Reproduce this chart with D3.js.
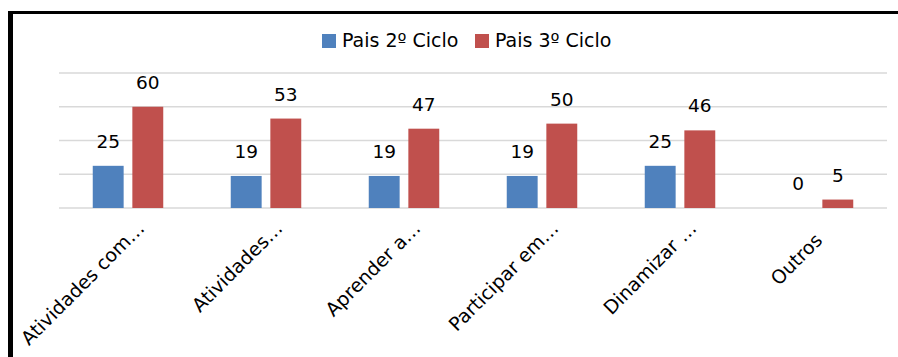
<!DOCTYPE html>
<html><head><meta charset="utf-8">
<script src="https://cdn.jsdelivr.net/npm/d3@7"></script>
<style>html,body{margin:0;padding:0;background:#fff;overflow:hidden}</style>
</head><body>
<svg id="chart" width="898" height="357"></svg>
<script>
const categories = ["Atividades com…", "Atividades…", "Aprender a…", "Participar em…", "Dinamizar …", "Outros"];
const seriesNames = ["Pais 2º Ciclo", "Pais 3º Ciclo"];
const pais2 = [25, 19, 19, 19, 25, 0];
const pais3 = [60, 53, 47, 50, 46, 5];
const yTicks = [0, 20, 40, 60, 80];
const colors = ["#4F81BD", "#C0504D"];

(function () {
const FONT = "'DejaVu Sans', sans-serif";
const svg = d3.select("#chart");
const W = 898, H = 357;
const pLeft = 59, pRight = 887, pTop = 73, pBottom = 208;

const x = d3.scaleBand().domain(categories).range([pLeft, pRight]).paddingInner(0).paddingOuter(0);
const xs = d3.scaleBand().domain(seriesNames).range([0, 70.5]).paddingInner(0.22);
const y = d3.scaleLinear().domain([0, 80]).range([pBottom, pTop]);

svg.append("rect").attr("width", W).attr("height", H).attr("fill", "#fff");

// gridlines
svg.append("g").selectAll("line").data(yTicks).join("line")
  .attr("x1", pLeft).attr("x2", pRight)
  .attr("y1", d => y(d)).attr("y2", d => y(d))
  .attr("stroke", "#d9d9d9").attr("stroke-width", 1.6);

const rows = categories.map((c, i) => ({c, vals: [pais2[i], pais3[i]]}));

const groups = svg.append("g").selectAll("g").data(rows).join("g")
  .attr("transform", d => `translate(${x(d.c) + x.bandwidth()/2 - 35.25},0)`);

groups.selectAll("rect").data(d => d.vals.map((v, k) => ({v, k})))
  .join("rect")
  .attr("x", d => xs(seriesNames[d.k]))
  .attr("width", xs.bandwidth())
  .attr("y", d => y(d.v))
  .attr("height", d => pBottom - y(d.v))
  .attr("fill", d => colors[d.k]);

groups.selectAll("text").data(d => d.vals.map((v, k) => ({v, k})))
  .join("text")
  .attr("x", d => xs(seriesNames[d.k]) + xs.bandwidth()/2)
  .attr("y", d => y(d.v) - 18)
  .attr("text-anchor", "middle")
  .attr("font-family", FONT).attr("font-size", 18.5).attr("fill", "#000")
  .text(d => d.v);

// category labels
svg.append("g").selectAll("text").data(categories).join("text")
  .attr("transform", d => `translate(${x(d) + x.bandwidth()/2 + 7.5},${pBottom + 11.5}) rotate(-45)`)
  .attr("text-anchor", "end").attr("dy", "0.75em")
  .attr("dx", d => d.endsWith("…") ? 0 : -17)
  .attr("font-family", FONT).attr("font-size", 19).attr("fill", "#000")
  .text(d => d);

// legend
const legX = [322, 475];
const leg = svg.append("g").selectAll("g").data(seriesNames).join("g")
  .attr("transform", (d, i) => `translate(${legX[i]},34)`);
leg.append("rect").attr("width", 14).attr("height", 14).attr("fill", (d, i) => colors[i]);
leg.append("text").attr("x", 20).attr("y", 13).attr("font-family", FONT).attr("font-size", 19)
  .attr("fill", "#000").text(d => d);

// frame
svg.append("line").attr("x1", 8).attr("x2", W).attr("y1", 12.5).attr("y2", 12.5)
  .attr("stroke", "#000").attr("stroke-width", 3);
svg.append("line").attr("x1", 10.5).attr("x2", 10.5).attr("y1", 11).attr("y2", H)
  .attr("stroke", "#000").attr("stroke-width", 5);
})();
</script>
</body></html>
